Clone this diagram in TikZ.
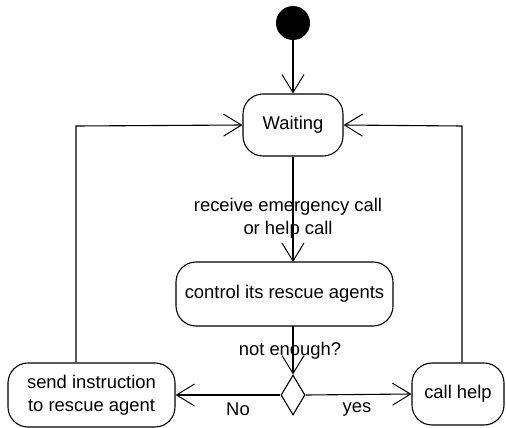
\documentclass[tikz,border=0pt]{standalone}
\usepackage{fontspec}
\setmainfont{Liberation Sans}
\usetikzlibrary{arrows.meta,shapes.geometric}
\begin{document}
\begin{tikzpicture}[x=1pt,y=-1pt,
  every node/.style={font=\fontsize{18.4}{22.5}\selectfont},
  statebox/.style={draw,line width=1.1pt,rounded corners=20pt,inner sep=0pt,align=center},
  flow/.style={draw,line width=1.1pt,-{Straight Barb[length=18pt,width=22pt,line width=1pt]}},
  lbl/.style={inner sep=0pt,align=center}]
\useasboundingbox (0,0) rectangle (506,428);
\node[circle,fill=black,minimum size=34pt,inner sep=0pt] (init) at (293,23) {};
\node[statebox,minimum width=100pt,minimum height=62pt] (wait) at (293,125) {Waiting};
\node[statebox,minimum width=217pt,minimum height=64pt] (ctrl) at (284.5,294) {control its rescue agents};
\node[diamond,draw,line width=1.1pt,minimum width=24pt,minimum height=40pt,inner sep=0pt] (dec) at (293,395) {};
\node[statebox,minimum width=167pt,minimum height=64pt] (send) at (91.5,395) {send instruction\\to rescue agent};
\node[statebox,minimum width=92pt,minimum height=62pt] (help) at (458,394) {call help};
\coordinate (ctop) at (293,262);
\coordinate (cbot) at (293,326);
\coordinate (lc) at (76,126);
\coordinate (rc) at (462,126);
\draw[flow] (init) -- (wait);
\draw[flow] (wait.south) -- (ctop);
\draw[flow] (cbot) -- (dec.north);
\draw[flow] (dec.west) -- (send.east);
\draw[flow] (dec.east) -- (help.west);
\draw[flow] (send.north -| lc) -- (lc) -- (wait.west);
\draw[flow] (help.north -| rc) -- (rc) -- (wait.east);
\node[lbl] (l1) at (288,218) {receive emergency call\\or help call};
\node[lbl] (l2) at (290,351) {not enough?};
\node[lbl] (l3) at (238,409) {No};
\node[lbl] (l4) at (357,409) {yes};
\end{tikzpicture}
\end{document}
